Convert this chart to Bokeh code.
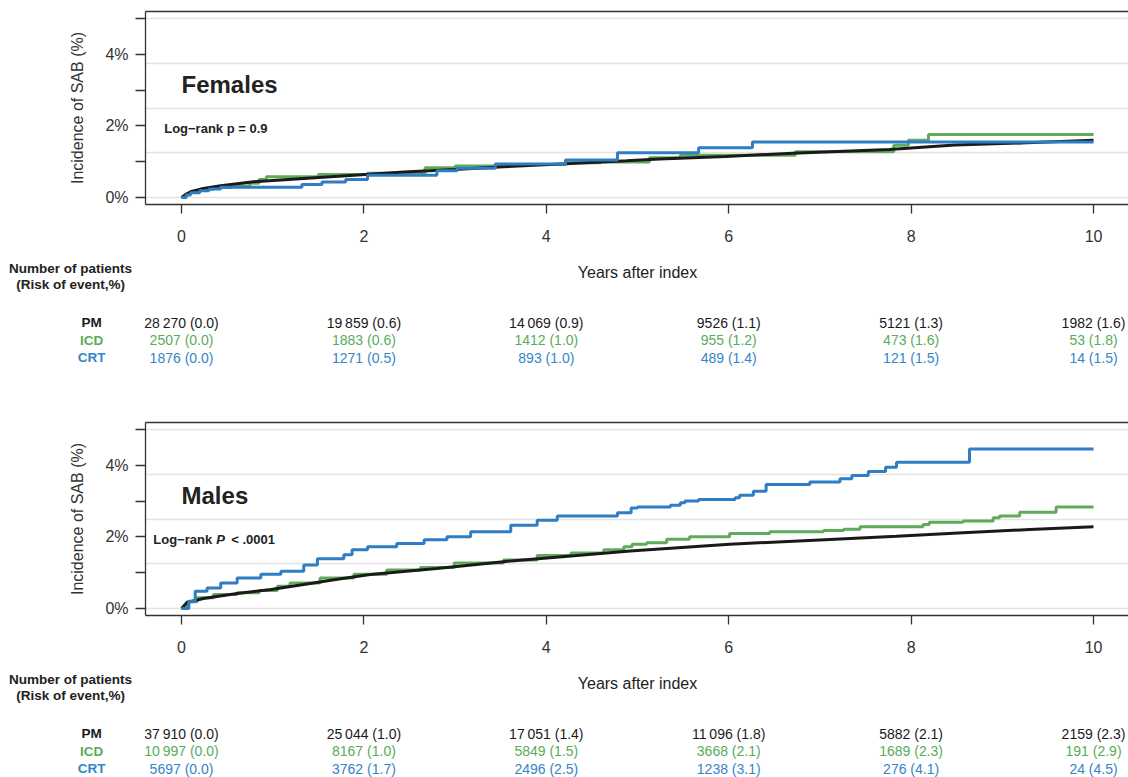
from bokeh.plotting import figure
from bokeh.layouts import column
from bokeh.models import Range1d, FixedTicker, LinearAxis
from bokeh.core.properties import value
from bokeh.embed import file_html
from bokeh.resources import INLINE

# ---------------- data ----------------
GROUPS = ["PM", "ICD", "CRT"]
COLORS = {"PM": "#1a1a1a", "ICD": "#5fab5a", "CRT": "#2f7dc3"}
TEXT_COLORS = {"PM": "#1a1a1a", "ICD": "#5aab5a", "CRT": "#3585c8"}

X_TICKS = [0, 2, 4, 6, 8, 10]
Y_TICKS = [0, 1, 2, 3, 4, 5]
Y_LABELS = {0: "0%", 1: "", 2: "2%", 3: "", 4: "4%", 5: ""}
Y_GRID = [0, 1.25, 2.5, 3.75, 5]

# Females
f_pm_t = [0, 0.05, 0.1, 0.24, 0.43, 0.79, 1.34, 1.89, 2.44, 2.99, 3.53, 4.27, 4.88, 5.24, 5.97, 6.7, 7.76, 8.48, 9.27, 10.0]
f_pm_y = [0, 0.09, 0.16, 0.25, 0.33, 0.44, 0.53, 0.62, 0.71, 0.78, 0.86, 0.95, 1.03, 1.08, 1.15, 1.24, 1.34, 1.47, 1.53, 1.6]
f_icd_t = [0, 0.05, 0.1, 0.2, 0.35, 0.55, 0.75, 0.85, 0.93, 1.5, 2.04, 2.67, 3.0, 3.44, 4.21, 4.6, 5.13, 5.47, 6.73, 7.81, 7.97, 8.19, 10.0]
f_icd_y = [0, 0.1, 0.17, 0.23, 0.28, 0.32, 0.4, 0.5, 0.58, 0.64, 0.68, 0.83, 0.88, 0.92, 0.97, 0.99, 1.11, 1.18, 1.28, 1.46, 1.6, 1.76, 1.76]
f_crt_t = [0, 0.05, 0.1, 0.2, 0.3, 0.43, 1.32, 1.54, 1.8, 2.04, 2.8, 3.02, 3.44, 4.21, 4.78, 5.67, 6.26, 10.0]
f_crt_y = [0, 0.07, 0.13, 0.19, 0.24, 0.29, 0.36, 0.43, 0.5, 0.62, 0.75, 0.82, 0.94, 1.05, 1.25, 1.39, 1.55, 1.55]

# Males
m_pm_t = [0, 0.06, 0.24, 0.61, 0.98, 1.34, 1.71, 2.07, 2.8, 3.53, 4.27, 4.92, 6.01, 7.11, 7.84, 8.57, 9.3, 10.0]
m_pm_y = [0, 0.17, 0.28, 0.42, 0.53, 0.67, 0.82, 0.95, 1.12, 1.31, 1.47, 1.61, 1.8, 1.93, 2.02, 2.12, 2.21, 2.29]
m_icd_t = [0, 0.06, 0.17, 0.35, 0.61, 0.85, 1.05, 1.19, 1.52, 1.89, 2.25, 2.62, 2.99, 3.53, 3.9, 4.27, 4.63, 4.85, 4.94, 5.1,
           5.32, 5.57, 6.01, 6.45, 7.04, 7.26, 7.44, 8.13, 8.2, 8.57, 8.9, 8.97, 9.19, 9.59, 10.0]
m_icd_y = [0, 0.19, 0.3, 0.39, 0.44, 0.5, 0.62, 0.71, 0.85, 0.96, 1.08, 1.15, 1.27, 1.36, 1.48, 1.55, 1.64, 1.73, 1.8, 1.84,
           1.94, 2.01, 2.1, 2.15, 2.18, 2.22, 2.29, 2.35, 2.41, 2.45, 2.54, 2.59, 2.69, 2.84, 2.84]
m_crt_t = [0, 0.08, 0.15, 0.28, 0.43, 0.61, 0.87, 1.09, 1.34, 1.49, 1.78, 1.87, 2.04, 2.36, 2.66, 2.91, 3.17, 3.61, 3.9, 4.12,
           4.78, 4.93, 5.0, 5.36, 5.47, 5.52, 5.67, 6.07, 6.12, 6.27, 6.41, 6.89, 7.22, 7.35, 7.53, 7.72, 7.84, 8.64, 10.0]
m_crt_y = [0, 0.2, 0.48, 0.57, 0.71, 0.85, 0.96, 1.04, 1.22, 1.39, 1.5, 1.64, 1.73, 1.82, 1.92, 2.01, 2.15, 2.33, 2.47, 2.59,
           2.68, 2.81, 2.84, 2.89, 2.96, 3.01, 3.05, 3.1, 3.17, 3.28, 3.47, 3.54, 3.63, 3.72, 3.83, 3.95, 4.09, 4.46, 4.46]

# Risk tables (number at risk, cumulative risk %)
f_pm_n = [28270, 19859, 14069, 9526, 5121, 1982]
f_pm_r = [0.0, 0.6, 0.9, 1.1, 1.3, 1.6]
f_icd_n = [2507, 1883, 1412, 955, 473, 53]
f_icd_r = [0.0, 0.6, 1.0, 1.2, 1.6, 1.8]
f_crt_n = [1876, 1271, 893, 489, 121, 14]
f_crt_r = [0.0, 0.5, 1.0, 1.4, 1.5, 1.5]

m_pm_n = [37910, 25044, 17051, 11096, 5882, 2159]
m_pm_r = [0.0, 1.0, 1.4, 1.8, 2.1, 2.3]
m_icd_n = [10997, 8167, 5849, 3668, 1689, 191]
m_icd_r = [0.0, 1.0, 1.5, 2.1, 2.3, 2.9]
m_crt_n = [5697, 3762, 2496, 1238, 276, 24]
m_crt_r = [0.0, 1.7, 2.5, 3.1, 4.1, 4.5]

# ---------------- layout constants ----------------
FONT = "Liberation Sans"
W = 1128
LEFT = 145
PX_PER_X = 91.2
X0 = -0.395
X1 = X0 + (W - LEFT) / PX_PER_X
Y0, Y1 = -0.196, 5.203
TX0 = X0 - LEFT / PX_PER_X
AX_COL = "#333333"
TOP_B, FRAME_H, BOT_B = 11, 193, 46


def no_align(fig):
    try:
        fig.frame_align = False
    except Exception:
        pass


def fmt_n(n):
    s = str(n)
    if n >= 10000:
        s = s[:-3] + "\u2009" + s[-3:]
    return s


def make_plot(title, logrank_parts, series):
    p = figure(width=W, height=TOP_B + FRAME_H + BOT_B, x_range=Range1d(X0, X1), y_range=Range1d(Y0, Y1),
               toolbar_location=None, output_backend="svg",
               min_border_left=LEFT, min_border_right=0, min_border_top=TOP_B, min_border_bottom=BOT_B)
    no_align(p)
    p.outline_line_color = None
    p.background_fill_color = "white"
    p.xgrid.visible = False
    p.ygrid.ticker = FixedTicker(ticks=Y_GRID)
    p.ygrid.grid_line_color = "#e4e4e4"
    p.ygrid.grid_line_width = 1.6

    xa = p.xaxis[0]
    xa.ticker = FixedTicker(ticks=X_TICKS)
    ya = p.yaxis[0]
    ya.ticker = FixedTicker(ticks=Y_TICKS)
    ya.major_label_overrides = Y_LABELS
    ya.axis_label = "Incidence of SAB (%)"
    ya.axis_label_text_font = FONT
    ya.axis_label_text_font_size = "16px"
    ya.axis_label_text_font_style = "normal"
    ya.axis_label_text_color = AX_COL
    ya.axis_label_standoff = 16
    for ax, out, so in ((xa, 9, 16), (ya, 10, 7)):
        ax.axis_line_color = AX_COL
        ax.axis_line_width = 1.3
        ax.major_tick_line_color = AX_COL
        ax.major_tick_line_width = 1.3
        ax.major_tick_out = out
        ax.major_tick_in = 0
        ax.minor_tick_line_color = None
        ax.major_label_text_font = FONT
        ax.major_label_text_font_size = "16px"
        ax.major_label_text_color = AX_COL
        ax.major_label_standoff = so

    top = LinearAxis(ticker=FixedTicker(ticks=[]), major_label_text_font_size="0px", major_tick_out=0,
                     major_tick_in=0, minor_tick_line_color=None, major_label_standoff=0,
                     axis_line_color=AX_COL, axis_line_width=1.3)
    p.add_layout(top, "above")

    for name in ["ICD", "PM", "CRT"]:
        t, y = series[name]
        if name == "PM":
            p.line(t, y, line_color=COLORS[name], line_width=3)
        else:
            p.step(t, y, mode="after", line_color=COLORS[name], line_width=3)

    p.text(x=[0], y=[3.16], text=[title], text_font=value(FONT), text_font_size="24px",
           text_font_style="bold", text_color="#222222", text_baseline="middle", text_align="left")
    lx, ly, parts = logrank_parts
    for txt, off, style in parts:
        p.text(x=[lx], y=[ly], text=[txt], x_offset=off, text_font=value(FONT), text_font_size="13px",
               text_font_style=style, text_color="#222222", text_baseline="middle", text_align="left")
    return p


def make_table(height, rows):
    t = figure(width=W, height=height, x_range=Range1d(TX0, X1), y_range=Range1d(height, 0),
               toolbar_location=None, output_backend="svg", x_axis_type=None, y_axis_type=None,
               min_border_left=0, min_border_right=0, min_border_top=0, min_border_bottom=0)
    no_align(t)
    t.outline_line_color = None
    t.grid.visible = False
    t.text(x=[(X_TICKS[0] + X_TICKS[-1]) / 2], y=[22], text=["Years after index"], text_font=value(FONT),
           text_font_size="16px", text_color="#222222", text_baseline="middle", text_align="center")
    t.text(x=[X_TICKS[0], X_TICKS[0]], y=[18, 34], text=["Number of patients", "(Risk of event,%)"],
           x_offset=-111, text_font=value(FONT), text_font_size="13.5px", text_font_style="bold",
           text_color="#222222", text_baseline="middle", text_align="center")
    row_y = [72, 89.5, 107]
    for (name, ns, rs), ry in zip(rows, row_y):
        t.text(x=[X_TICKS[0]], y=[ry], text=[name], x_offset=-90, text_font=value(FONT),
               text_font_size="13.5px", text_font_style="bold", text_color=TEXT_COLORS[name],
               text_baseline="middle", text_align="center")
        labels = [f"{fmt_n(n)} ({r:.1f})" for n, r in zip(ns, rs)]
        t.text(x=X_TICKS, y=[ry] * len(X_TICKS), text=labels, text_font=value(FONT),
               text_font_size="14px", text_color=TEXT_COLORS[name],
               text_baseline="middle", text_align="center")
    return t


p1 = make_plot("Females",
               (-0.19, 1.93, [("Log\u2212rank p = 0.9", 0, "bold")]),
               {"PM": (f_pm_t, f_pm_y), "ICD": (f_icd_t, f_icd_y), "CRT": (f_crt_t, f_crt_y)})
t1 = make_table(161, [("PM", f_pm_n, f_pm_r), ("ICD", f_icd_n, f_icd_r), ("CRT", f_crt_n, f_crt_r)])
p2 = make_plot("Males",
               (-0.31, 1.94, [("Log\u2212rank", 0, "bold"), ("P", 63, "bold italic"), ("< .0001", 78, "bold")]),
               {"PM": (m_pm_t, m_pm_y), "ICD": (m_icd_t, m_icd_y), "CRT": (m_crt_t, m_crt_y)})
t2 = make_table(116, [("PM", m_pm_n, m_pm_r), ("ICD", m_icd_n, m_icd_r), ("CRT", m_crt_n, m_crt_r)])

layout = column(p1, t1, p2, t2, spacing=0)
open("out.html", "w").write(file_html(layout, INLINE))
